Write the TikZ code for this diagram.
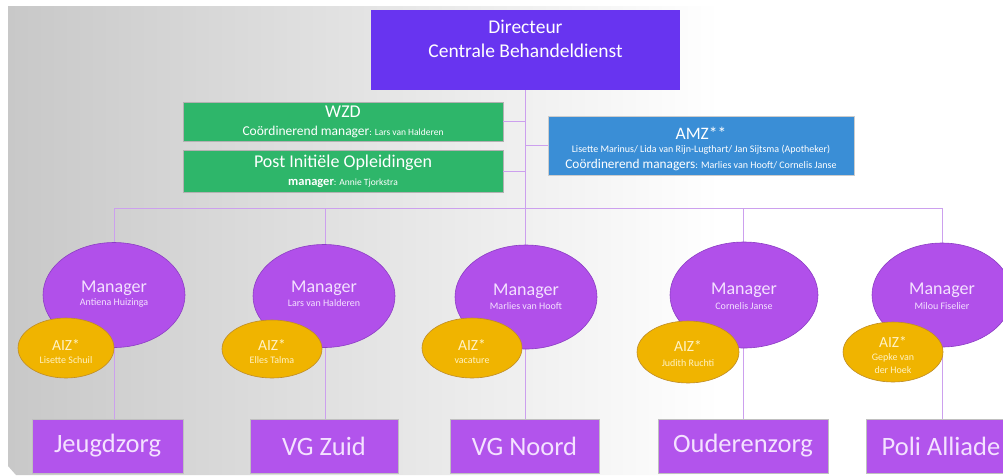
\documentclass[tikz,border=0pt]{standalone}
\usepackage{fontspec}
\setmainfont{Carlito}
\usetikzlibrary{shapes.geometric}
\definecolor{dirc}{RGB}{104,52,240}
\definecolor{greenc}{RGB}{46,182,106}
\definecolor{bluec}{RGB}{58,142,214}
\definecolor{mgrc}{RGB}{177,80,234}
\definecolor{mgrb}{RGB}{140,62,196}
\definecolor{aizc}{RGB}{240,180,0}
\definecolor{aizb}{RGB}{190,140,40}
\definecolor{unitc}{RGB}{178,84,236}
\definecolor{linec}{RGB}{204,160,238}
\definecolor{lavtext}{RGB}{244,226,255}
\definecolor{yeltext}{RGB}{255,242,196}
\definecolor{bggray}{RGB}{200,200,200}
\newcommand{\fs}[2]{\fontsize{#1}{#2}\selectfont}
\begin{document}
\begin{tikzpicture}[x=1pt,y=-1pt,
  conn/.style={draw=linec, line width=1pt},
  dirbox/.style={rectangle, fill=dirc, minimum width=309pt, minimum height=80pt, inner sep=0pt},
  greenbox/.style={rectangle, fill=greenc, draw=gray!60, line width=0.6pt, minimum width=320pt, inner sep=0pt},
  bluebox/.style={rectangle, fill=bluec, draw=gray!40, line width=0.6pt, minimum width=306pt, minimum height=59pt, inner sep=0pt},
  mgr/.style={ellipse, fill=mgrc, draw=mgrb, line width=0.6pt, inner sep=0pt},
  aiz/.style={ellipse, fill=aizc, draw=aizb, line width=0.6pt, inner sep=0pt},
  unitbox/.style={rectangle, fill=unitc, draw=gray!50, line width=0.4pt, minimum height=54pt, inner sep=0pt, text=lavtext, font=\fs{26.5}{30}},
  wt/.style={inner sep=0pt, text=white},
  lt/.style={inner sep=0pt, text=lavtext},
  yt/.style={inner sep=0pt, text=yeltext},
  mtitle/.style={label={[lt, font=\fs{18}{18}, yshift=#1]center:Manager}},
  atitle/.style={label={[yt, font=\fs{15.5}{16}, yshift=#1]center:AIZ*}}
]
\useasboundingbox (0,0) rectangle (1003,475);
% background
\shade[left color=bggray, right color=white] (8,6) -- (720,6) -- (720,475) -- (16,475) -- (8,466) -- cycle;

% top boxes
\node[dirbox,
  label={[wt, font=\fs{19.5}{20}, yshift=23pt]center:Directeur},
  label={[wt, font=\fs{19.5}{20}, yshift=-1pt]center:Centrale Behandeldienst}] (dir) at (525.5,50) {};

\node[greenbox, minimum height=39pt,
  label={[wt, font=\fs{18}{18}, yshift=9.5pt]center:WZD},
  label={[wt, yshift=-10pt]center:{\fs{13.5}{14}Coördinerend manager}{\fs{9.5}{14}: Lars van Halderen}}] (wzd) at (343,121.5) {};
\node[greenbox, minimum height=42pt,
  label={[wt, font=\fs{18}{18}, yshift=8pt]center:Post Initiële Opleidingen},
  label={[wt, yshift=-12pt]center:{\fs{12.5}{14}\bfseries manager}{\fs{9.5}{14}: Annie Tjorkstra}}] (pio) at (343,171) {};

\node[bluebox,
  label={[wt, font=\fs{17.5}{18}, yshift=12.5pt]center:AMZ**},
  label={[wt, font=\fs{10}{11}, yshift=-4.5pt]center:Lisette Marinus/ Lida van Rijn-Lugthart/ Jan Sijtsma (Apotheker)},
  label={[wt, yshift=-19.5pt]center:{\fs{13.3}{14}Coördinerend managers}{\fs{10}{14}: Marlies van Hooft/ Cornelis Janse}}] (amz) at (701,145.5) {};

% bus coordinates
\coordinate (b1) at (114,208);
\coordinate (b2) at (325,208);
\coordinate (b3) at (525,208);
\coordinate (b4) at (743,208);
\coordinate (b5) at (942,208);

% unit boxes
\node[unitbox, minimum width=151pt] (u1) at (107.5,446) {Jeugdzorg};
\node[unitbox, minimum width=148pt] (u2) at (324,446) {VG Zuid};
\node[unitbox, minimum width=149pt] (u3) at (524.5,446) {VG Noord};
\node[unitbox, minimum width=170pt] (u4) at (743,446) {Ouderenzorg};
\node[unitbox, minimum width=150pt] (u5) at (941,446) {Poli Alliade};

% connectors (behind the ellipses)
\draw[conn] (dir.south -| b3) -- (b3);
\draw[conn] (wzd.east) -- (wzd.east -| b3);
\draw[conn] (pio.east) -- (pio.east -| b3);
\draw[conn] (amz.west) -- (amz.west -| b3);
\draw[conn] (b1) -- (b5);
\draw[conn] (b1) -- (b1 |- u1.north);
\draw[conn] (b2) -- (b2 |- u2.north);
\draw[conn] (b3) -- (b3 |- u3.north);
\draw[conn] (b4) -- (b4 |- u4.north);
\draw[conn] (b5) -- (b5 |- u5.north);

% managers
\node[mgr, minimum width=142pt, minimum height=105pt, mtitle=7pt,
  label={[lt, font=\fs{10}{11}, yshift=-8pt]center:Antiena Huizinga}] (m1) at (114,295) {};
\node[mgr, minimum width=142pt, minimum height=103pt, mtitle=8pt,
  label={[lt, font=\fs{10}{11}, yshift=-7pt]center:Lars van Halderen}] (m2) at (324,296) {};
\node[mgr, minimum width=142pt, minimum height=104pt, mtitle=6pt,
  label={[lt, font=\fs{10}{11}, yshift=-9pt]center:Marlies van Hooft}] (m3) at (526,297) {};
\node[mgr, minimum width=148pt, minimum height=106pt, mtitle=5pt,
  label={[lt, font=\fs{10}{11}, yshift=-11pt]center:Cornelis Janse}] (m4) at (744,295) {};
\node[mgr, minimum width=140pt, minimum height=104pt, mtitle=5pt,
  label={[lt, font=\fs{10}{11}, yshift=-11pt]center:Milou Fiselier}] (m5) at (942,295) {};

% AIZ
\node[aiz, minimum width=96pt, minimum height=60pt, atitle=3pt,
  label={[yt, font=\fs{10}{11}, yshift=-12pt]center:Lisette Schuil}] (a1) at (66,348) {};
\node[aiz, minimum width=100pt, minimum height=58pt, atitle=4pt,
  label={[yt, font=\fs{10}{11}, yshift=-11pt]center:Elles Talma}] (a2) at (272,349) {};
\node[aiz, minimum width=100pt, minimum height=60pt, atitle=3pt,
  label={[yt, font=\fs{10}{11}, yshift=-12pt]center:vacature}] (a3) at (472,348) {};
\node[aiz, minimum width=102pt, minimum height=62pt, atitle=6pt,
  label={[yt, font=\fs{10}{11}, yshift=-11pt]center:Judith Ruchti}] (a4) at (688,352) {};
\node[aiz, minimum width=100pt, minimum height=60pt, atitle=10pt,
  label={[yt, font=\fs{10}{11}, yshift=-6pt]center:Gepke van},
  label={[yt, font=\fs{10}{11}, yshift=-18pt]center:der Hoek}] (a5) at (893,352) {};
\end{tikzpicture}
\end{document}
